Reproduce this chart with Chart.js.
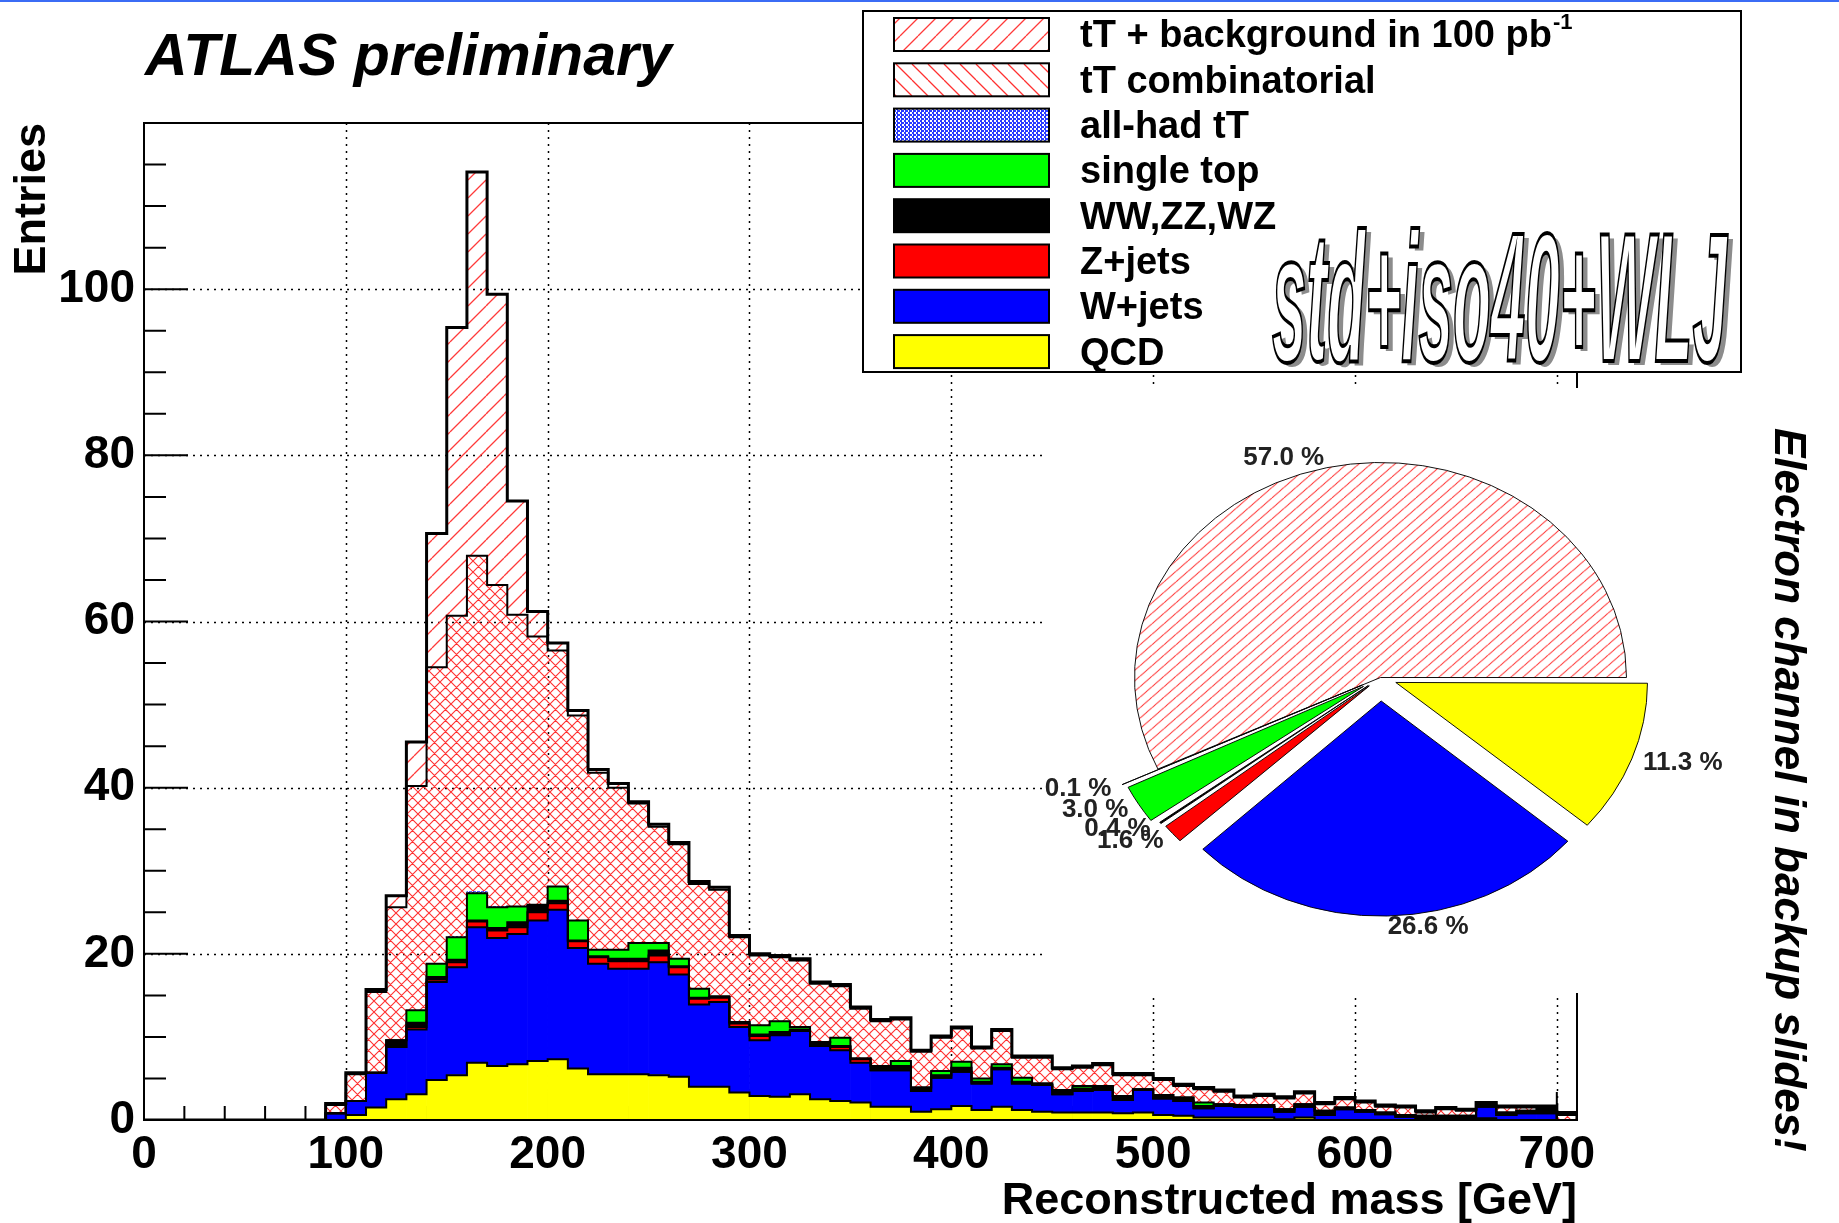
<!DOCTYPE html>
<html>
<head>
<meta charset="utf-8">
<script src="https://cdn.jsdelivr.net/npm/chart.js@4.4.1/dist/chart.umd.min.js"></script>
<style>
  html, body { margin: 0; padding: 0; background: #fff; }
  body { width: 1839px; height: 1223px; position: relative; overflow: hidden; }
  #hist { position: absolute; left: 0; top: 0; }
  #pie { position: absolute; left: 1044px; top: 388px; background: #fff; }
  #topline { position: absolute; left: 0; top: 0; width: 1839px; height: 2px; background: #3b6cf5; }
</style>
</head>
<body>
<canvas id="hist" width="1839" height="1223"></canvas>
<canvas id="pie" width="715" height="605"></canvas>
<div id="topline"></div>
<script>
const FONT = "'Liberation Sans', Arial, Helvetica, sans-serif";
Chart.defaults.font.family = FONT;
Chart.defaults.color = '#000';

// lower edge of each 10 GeV bin
const massBins = [0, 10, 20, 30, 40, 50, 60, 70, 80, 90, 100, 110, 120, 130, 140, 150, 160, 170, 180, 190,
  200, 210, 220, 230, 240, 250, 260, 270, 280, 290, 300, 310, 320, 330, 340, 350, 360, 370, 380, 390,
  400, 410, 420, 430, 440, 450, 460, 470, 480, 490, 500, 510, 520, 530, 540, 550, 560, 570, 580, 590,
  600, 610, 620, 630, 640, 650, 660, 670, 680, 690, 700];

// entries per bin, bottom of the stack first
const qcd = [0, 0, 0, 0, 0, 0, 0, 0, 0,
  0, 0.6, 1.5, 2.5, 3.1, 4.8, 5.4, 6.9, 6.5, 6.7, 7.1,
  7.3, 6.2, 5.5, 5.5, 5.5, 5.4, 5.2, 4.0, 4.0, 3.3,
  2.9, 2.8, 3.1, 2.5, 2.3, 2.1, 1.6, 1.6, 1.0, 1.3,
  1.7, 1.2, 1.6, 1.2, 1.0, 0.9, 0.9, 0.9, 0.8, 0.9,
  0.6, 0.5, 0.3, 0.3, 0.3, 0.3, 0.1, 0.3, 0, 0,
  0, 0, 0, 0, 0, 0, 0.2, 0, 0, 0, 0];
const wJets = [0, 0, 0, 0, 0, 0, 0, 0, 0,
  0.8, 1.7, 4.2, 6.3, 7.8, 11.8, 13.0, 16.3, 15.4, 15.7, 16.9,
  18.0, 14.5, 13.3, 12.7, 12.7, 13.6, 12.3, 9.9, 10.2, 7.9,
  6.7, 7.4, 7.6, 6.4, 6.1, 4.8, 4.4, 4.4, 2.5, 3.8,
  4.1, 3.2, 4.5, 3.2, 3.2, 2.2, 2.6, 2.7, 1.6, 2.7,
  2.0, 1.8, 1.1, 1.4, 1.3, 1.3, 0.9, 1.3, 0.6, 1.3,
  1.0, 0.7, 0.4, 0.2, 0.2, 0.2, 1.4, 0.6, 0.8, 0.8, 0];
const zJets = [0, 0, 0, 0, 0, 0, 0, 0, 0,
  0, 0, 0, 0, 0.3, 0.3, 0.6, 0.7, 0.9, 0.8, 1.0,
  0.8, 0.8, 0.8, 0.9, 0.9, 0.8, 0.9, 0.7, 0.5, 0.4,
  0.5, 0.1, 0, 0, 0.4, 0.4, 0, 0, 0, 0,
  0, 0, 0, 0, 0, 0, 0, 0, 0, 0,
  0, 0, 0, 0, 0, 0, 0, 0, 0, 0,
  0, 0, 0, 0, 0, 0, 0, 0, 0, 0, 0];
const diboson = [0, 0, 0, 0, 0, 0, 0, 0, 0,
  0, 0, 0, 0.8, 0.5, 0.3, 0.3, 0.1, 0.3, 0.6, 0.8,
  0.3, 0.1, 0.1, 0.3, 0.3, 0.6, 0.1, 0.1, 0.1, 0.2,
  0.2, 0.3, 0.2, 0.5, 0.1, 0.1, 0.5, 0.5, 0.4, 0.3,
  0.5, 0.2, 0.2, 0.2, 0.2, 0.5, 0.3, 0.5, 0.5, 0.1,
  0.4, 0.4, 0.3, 0.2, 0.2, 0.2, 0.3, 0.3, 0.5, 0.2,
  0.2, 0.2, 0.2, 0.3, 0.3, 0.3, 0.1, 0.3, 0.3, 0.8, 0];
const singleTop = [0, 0, 0, 0, 0, 0, 0, 0, 0,
  0, 0, 0, 0, 1.5, 1.6, 2.7, 3.3, 2.5, 1.9, 0.1,
  1.7, 2.4, 0.8, 1.1, 1.9, 0.9, 0.9, 1.1, 0.1, 0,
  1.1, 1.3, 0.3, 0, 1.0, 0, 0, 0.6, 0, 0.5,
  0.7, 0.4, 0.4, 0.5, 0, 0, 0.3, 0, 0, 0,
  0, 0, 0.4, 0, 0, 0, 0, 0, 0, 0,
  0, 0, 0, 0, 0, 0, 0, 0, 0, 0, 0];
const allHad = [0, 0, 0, 0, 0, 0, 0, 0, 0,
  0, 0, 0, 0, 0, 0, 0.1, 0.2, 0.1, 0, 0,
  0, 0, 0, 0, 0, 0, 0, 0, 0, 0,
  0, 0, 0, 0, 0, 0, 0, 0, 0, 0,
  0, 0, 0, 0, 0, 0, 0, 0, 0, 0,
  0, 0, 0, 0, 0, 0, 0, 0, 0, 0,
  0, 0, 0, 0, 0, 0, 0, 0, 0, 0, 0];
const ttComb = [0, 0, 0, 0, 0, 0, 0, 0, 0,
  1.0, 3.2, 9.7, 16.0, 27.0, 35.7, 38.6, 40.4, 38.7, 35.1, 32.3,
  28.4, 24.7, 21.3, 19.5, 16.8, 14.0, 13.8, 12.6, 12.8, 10.2,
  8.4, 7.7, 8.0, 7.0, 6.2, 6.0, 5.4, 5.0, 4.3, 4.0,
  4.0, 3.6, 4.0, 2.4, 3.1, 2.5, 2.2, 2.5, 2.5, 1.7,
  1.8, 1.4, 1.6, 1.5, 0.9, 1.1, 1.3, 1.3, 0.8, 1.0,
  0.9, 0.7, 0.9, 0.4, 0.8, 0.6, 0.2, 0.6, 0.4, 0, 0.6];
const ttSignal = [0, 0, 0, 0, 0, 0, 0, 0, 0,
  0.2, 0.2, 0.3, 1.4, 5.3, 16.1, 34.7, 46.2, 35.0, 13.7, 3.0,
  0.9, 0.6, 0.4, 0.5, 0.2, 0.3, 0.2, 0.3, 0.3, 0.2,
  0.2, 0.2, 0.2, 0.2, 0.2, 0.2, 0.2, 0.2, 0.2, 0.2,
  0.2, 0.2, 0.2, 0.2, 0.2, 0.2, 0.2, 0.2, 0.2, 0.2,
  0.2, 0.2, 0.2, 0.2, 0.2, 0.2, 0.2, 0.2, 0.2, 0.2,
  0.2, 0.2, 0.2, 0.2, 0.2, 0.2, 0.2, 0.2, 0.2, 0.1, 0.3];

const xTicks = [0, 100, 200, 300, 400, 500, 600, 700];
const yTicks = [0, 20, 40, 60, 80, 100];

// inset pie, clockwise from 3 o'clock
const pieNames = ['QCD', 'W+jets', 'Z+jets', 'WW,ZZ,WZ', 'single top', 'all-had tT', 'tT'];
const pieShares = [11.3, 26.6, 1.6, 0.4, 3.0, 0.1, 57.0];
const pieShift = [22, 27, 28, 30, 36, 40, 0];   // explode distance in px

function hatch(size, dirs, color, width) {
  const c = document.createElement('canvas');
  c.width = size; c.height = size;
  const g = c.getContext('2d');
  g.strokeStyle = color; g.lineWidth = width;
  g.beginPath();
  for (const o of [-size, 0, size]) {
    if (dirs.includes('/')) { g.moveTo(o, size); g.lineTo(o + size, 0); }
    if (dirs.includes('\\')) { g.moveTo(o, 0); g.lineTo(o + size, size); }
  }
  g.stroke();
  return g.createPattern(c, 'repeat');
}
function mesh(color) {
  const c = document.createElement('canvas');
  c.width = 4; c.height = 4;
  const g = c.getContext('2d');
  g.fillStyle = '#fff'; g.fillRect(0, 0, 4, 4);
  g.fillStyle = color; g.fillRect(0, 0, 2, 2); g.fillRect(2, 2, 2, 2);
  g.fillRect(1, 0, 1, 4);
  return g.createPattern(c, 'repeat');
}

const sigHatch = hatch(18, '/', '#ff3a3a', 1.3);
const combHatch = hatch(11, '/\\', '#ff3030', 1.1);
const combLegend = hatch(16, '\\', '#ff3030', 1.3);
const allHadMesh = mesh('#2a3cff');
const pieHatch = hatch(12, '/', '#ff4040', 1.2);

const layers = [
  { name: 'QCD', values: qcd, fill: '#ffff00' },
  { name: 'W+jets', values: wJets, fill: '#0000ff' },
  { name: 'Z+jets', values: zJets, fill: '#ff0000' },
  { name: 'WW,ZZ,WZ', values: diboson, fill: '#000000' },
  { name: 'single top', values: singleTop, fill: '#00ff00' },
  { name: 'all-had tT', values: allHad, fill: allHadMesh },
  { name: 'tT combinatorial', values: ttComb, fill: combHatch },
  { name: 'tT + background in 100 pb', values: ttSignal, fill: sigHatch }
];

let running = massBins.map(() => 0);
const stack = layers.map(l => {
  const lo = running;
  const hi = lo.map((v, i) => +(v + l.values[i]).toFixed(3));
  running = hi;
  return { ...l, lo, hi };
});

const barSets = stack.map(l => ({
  type: 'bar',
  label: l.name,
  data: massBins.map((m, i) => ({ x: m + 5, y: [l.lo[i], l.hi[i]] })).filter(p => p.y[1] > p.y[0]),
  backgroundColor: l.fill,
  borderWidth: 0,
  grouped: false,
  barPercentage: 1,
  categoryPercentage: 1,
  order: 2
}));

const outlineSets = stack.filter(l => l.name !== 'all-had tT').map((l, j, arr) => ({
  type: 'line',
  label: l.name + ' outline',
  data: massBins.map((m, i) => ({ x: m, y: l.hi[i] })).concat([{ x: 710, y: 0 }]),
  stepped: 'before',
  borderColor: '#000',
  borderWidth: j === arr.length - 1 ? 3 : 2,
  pointRadius: 0,
  fill: false,
  order: 1
}));

const gridAndTicks = {
  id: 'gridAndTicks',
  beforeDatasetsDraw(chart) {
    const { ctx, chartArea: a, scales: { x, y } } = chart;
    ctx.save();
    ctx.strokeStyle = '#000';
    ctx.lineWidth = 1.5;
    ctx.setLineDash([2, 5]);
    ctx.beginPath();
    xTicks.filter(v => v > 0).forEach(v => {
      const px = Math.round(x.getPixelForValue(v)) + 0.5;
      ctx.moveTo(px, a.top); ctx.lineTo(px, a.bottom);
    });
    yTicks.filter(v => v > 0).forEach(v => {
      const py = Math.round(y.getPixelForValue(v)) + 0.5;
      ctx.moveTo(a.left, py); ctx.lineTo(a.right, py);
    });
    ctx.stroke();
    ctx.setLineDash([]);
    ctx.lineWidth = 2;
    ctx.beginPath();
    for (let v = 0; v <= 120; v += 5) {
      const py = y.getPixelForValue(v);
      ctx.moveTo(a.left, py); ctx.lineTo(a.left + (v % 20 === 0 ? 44 : 22), py);
    }
    for (let v = 0; v <= 700; v += 20) {
      const px = x.getPixelForValue(v);
      ctx.moveTo(px, a.bottom); ctx.lineTo(px, a.bottom - (v % 100 === 0 ? 28 : 14));
    }
    ctx.stroke();
    ctx.restore();
  },
  afterDatasetsDraw(chart) {
    const { ctx, chartArea: a } = chart;
    ctx.save();
    ctx.strokeStyle = '#000';
    ctx.lineWidth = 2;
    ctx.strokeRect(a.left, a.top, a.right - a.left, a.bottom - a.top);
    ctx.restore();
  }
};

const legendRows = [
  { text: 'tT + background in 100 pb', sup: '-1', fill: sigHatch },
  { text: 'tT combinatorial', fill: combLegend },
  { text: 'all-had tT', fill: allHadMesh },
  { text: 'single top', fill: '#00ff00' },
  { text: 'WW,ZZ,WZ', fill: '#000000' },
  { text: 'Z+jets', fill: '#ff0000' },
  { text: 'W+jets', fill: '#0000ff' },
  { text: 'QCD', fill: '#ffff00' }
];

const overlay = {
  id: 'overlay',
  afterDraw(chart) {
    const ctx = chart.ctx;
    ctx.save();
    // title
    ctx.fillStyle = '#000';
    ctx.font = `italic bold 59px ${FONT}`;
    ctx.textBaseline = 'alphabetic';
    ctx.textAlign = 'left';
    ctx.fillText('ATLAS preliminary', 145, 75);

    // legend box
    ctx.fillStyle = '#fff';
    ctx.fillRect(863, 11, 878, 361);
    ctx.strokeStyle = '#000';
    ctx.lineWidth = 2;
    ctx.strokeRect(863, 11, 878, 361);
    legendRows.forEach((r, i) => {
      const y0 = 18 + i * 45.3;
      ctx.fillStyle = '#fff';
      ctx.fillRect(894, y0, 155, 33);
      ctx.fillStyle = r.fill;
      ctx.fillRect(894, y0, 155, 33);
      ctx.lineWidth = 2;
      ctx.strokeStyle = '#000';
      ctx.strokeRect(894, y0, 155, 33);
      ctx.fillStyle = '#000';
      ctx.font = `bold 38px ${FONT}`;
      ctx.textBaseline = 'middle';
      ctx.fillText(r.text, 1080, y0 + 19);
      if (r.sup) {
        const w = ctx.measureText(r.text).width;
        ctx.font = `bold 22px ${FONT}`;
        ctx.fillText(r.sup, 1080 + w + 1, y0 + 5);
      }
    });

    // selection tag
    const tag = 'std+iso40+WLJ';
    ctx.font = `italic bold 184px ${FONT}`;
    ctx.textBaseline = 'alphabetic';
    const sx = 455 / ctx.measureText(tag).width;
    ctx.save();
    ctx.translate(1272, 361);
    ctx.scale(sx, 1);
    ctx.fillStyle = '#8c8c8c';
    ctx.fillText(tag, 5 / sx, 4);
    ctx.fillStyle = '#fff';
    ctx.fillText(tag, 0, 0);
    ctx.lineWidth = 4;
    ctx.strokeStyle = '#000';
    ctx.strokeText(tag, 0, 0);
    ctx.restore();

    // side note
    ctx.save();
    ctx.translate(1787, 428);
    ctx.rotate(Math.PI / 2);
    ctx.fillStyle = '#000';
    ctx.font = `italic bold 44px ${FONT}`;
    ctx.textBaseline = 'middle';
    ctx.fillText('Electron channel in backup slides!', 0, 0);
    ctx.restore();
    ctx.restore();
  }
};

new Chart(document.getElementById('hist'), {
  type: 'bar',
  data: { datasets: [...barSets, ...outlineSets] },
  options: {
    responsive: false,
    animation: false,
    layout: { padding: { left: 0, top: 123, right: 262, bottom: 0 } },
    plugins: { legend: { display: false }, tooltip: { enabled: false } },
    scales: {
      x: {
        type: 'linear', min: 0, max: 710, offset: false,
        afterBuildTicks: s => { s.ticks = xTicks.map(v => ({ value: v })); },
        afterFit: s => { s.height = 103; },
        grid: { display: false, drawTicks: false },
        border: { display: false },
        ticks: {
          autoSkip: false, maxRotation: 0, padding: 8,
          font: { size: 46, weight: 'bold' }, color: '#000',
          callback: v => String(v)
        },
        title: {
          display: true, text: 'Reconstructed mass [GeV]', align: 'end',
          font: { size: 45, weight: 'bold', lineHeight: 0.95 }, color: '#000', padding: { top: 0, bottom: 0 }
        }
      },
      y: {
        min: 0, max: 120,
        afterBuildTicks: s => { s.ticks = yTicks.map(v => ({ value: v })); },
        afterFit: s => { s.width = 144; },
        grid: { display: false, drawTicks: false },
        border: { display: false },
        ticks: {
          padding: 9,
          font: { size: 46, weight: 'bold' }, color: '#000',
          callback: v => String(v)
        },
        title: {
          display: true, text: 'Entries', align: 'end',
          font: { size: 45, weight: 'bold' }, color: '#000', padding: { top: 6, bottom: 0 }
        }
      }
    }
  },
  plugins: [gridAndTicks, overlay]
});

// inset pie, drawn slightly flattened like the original
const PIE_SQUASH = 0.874;
const squash = {
  id: 'squash',
  beforeDatasetsDraw(chart) {
    const { ctx, chartArea: a } = chart;
    const cy = (a.top + a.bottom) / 2;
    ctx.save();
    ctx.translate(0, cy);
    ctx.scale(1, PIE_SQUASH);
    ctx.translate(0, -cy);
  },
  afterDatasetsDraw(chart) { chart.ctx.restore(); }
};
// Chart.js moves an arc by offset/4 * (2 - sin(circumference)); invert that
const arcOffset = c => {
  const circ = pieShares[c.dataIndex] / 100 * 2 * Math.PI;
  const k = (2 - Math.sin(Math.min(Math.PI, circ))) / 4;
  return pieShift[c.dataIndex] / k;
};
const pieText = {
  id: 'pieText',
  afterDraw(chart) {
    const ctx = chart.ctx;
    const meta = chart.getDatasetMeta(0);
    ctx.save();
    ctx.font = `bold 26px ${FONT}`;
    ctx.fillStyle = '#222';
    ctx.textBaseline = 'middle';
    meta.data.forEach((arc, i) => {
      const p = arc.getProps(['x', 'y', 'startAngle', 'endAngle', 'outerRadius'], true);
      const mid = (p.startAngle + p.endAngle) / 2;
      const r = p.outerRadius + pieShift[i] + 12;
      const px = p.x + Math.cos(mid) * r;
      const py = p.y + Math.sin(mid) * r * PIE_SQUASH;
      ctx.textAlign = Math.cos(mid) < 0 ? 'right' : 'left';
      ctx.fillText(pieShares[i].toFixed(1) + ' %', px, py);
    });
    ctx.restore();
  }
};

new Chart(document.getElementById('pie'), {
  type: 'pie',
  data: {
    labels: pieNames,
    datasets: [{
      data: pieShares,
      backgroundColor: ['#ffff00', '#0000ff', '#ff0000', '#000000', '#00ff00', allHadMesh, pieHatch],
      borderColor: '#000',
      borderWidth: 1,
      offset: arcOffset
    }]
  },
  options: {
    responsive: false,
    animation: false,
    rotation: 90,
    radius: 246,
    layout: { padding: { right: 42, bottom: 26 } },
    plugins: { legend: { display: false }, tooltip: { enabled: false } }
  },
  plugins: [squash, pieText]
});
</script>
</body>
</html>
